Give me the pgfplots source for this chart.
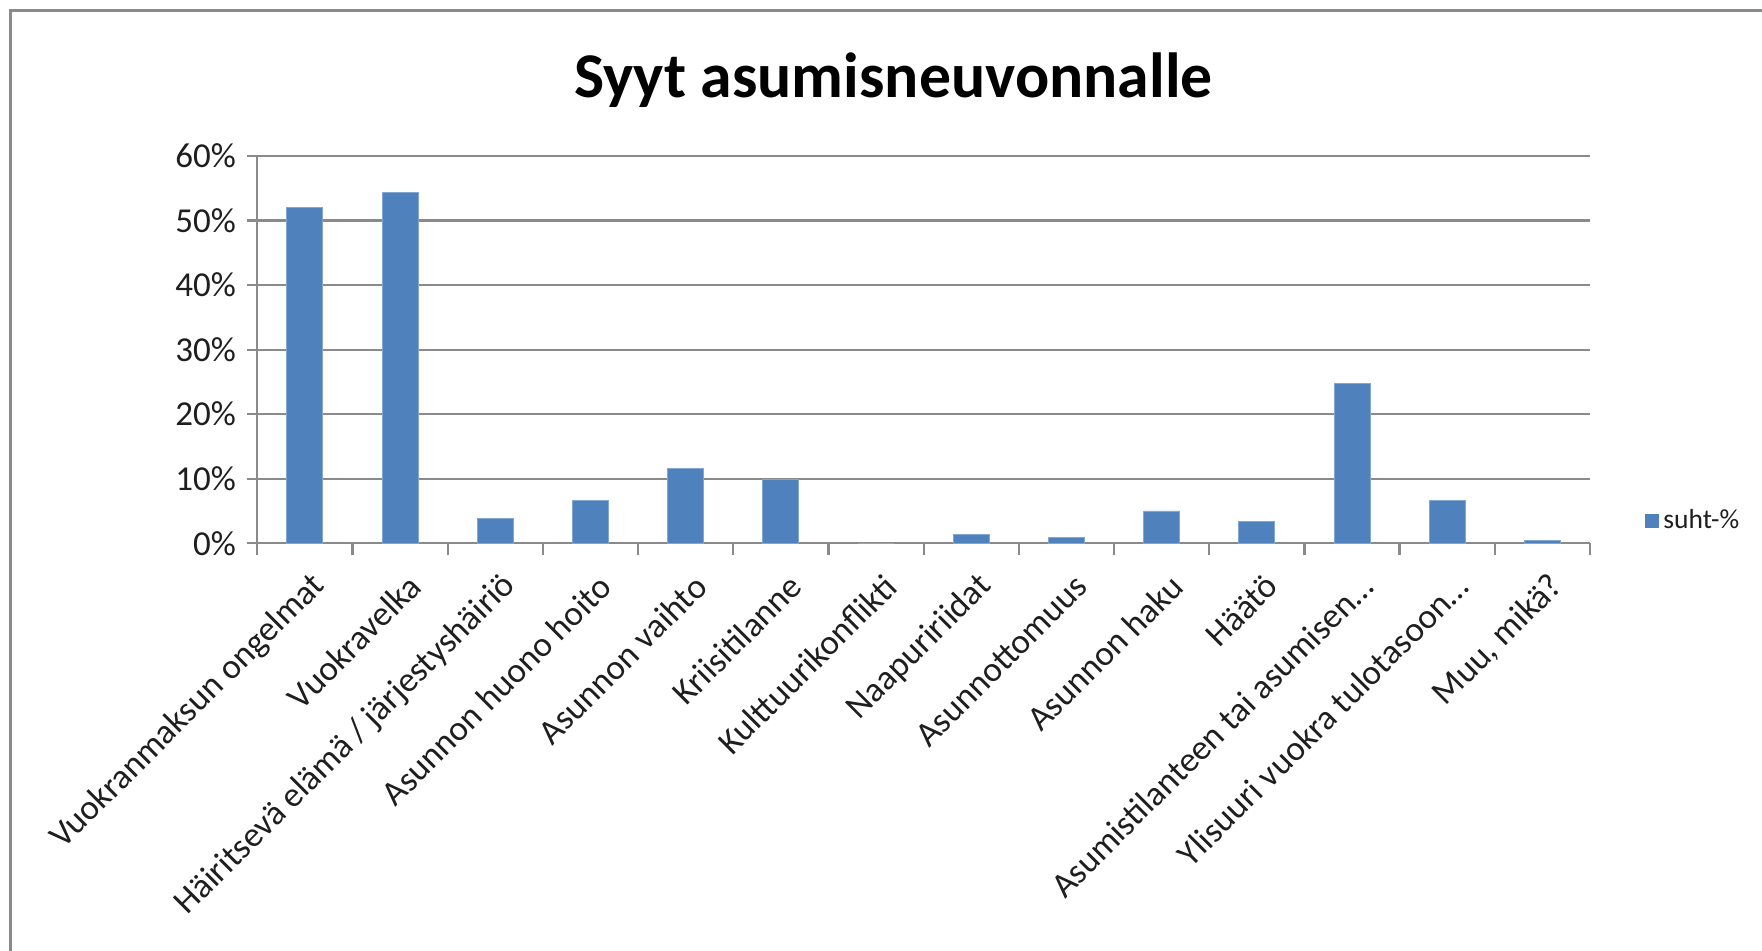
\documentclass[border=0pt]{standalone}
\usepackage{pgfplots}
\pgfplotsset{compat=1.18}
\usepackage{pgfplotstable}
\usepackage{fontspec}
\setmainfont{Carlito}
\definecolor{barblue}{HTML}{4F81BD}
\definecolor{axgray}{HTML}{8A8A8A}
\definecolor{txt}{HTML}{1E1E1E}
\pgfplotstableread{
x y
0 52.0
1 54.4
2 3.8
3 6.7
4 11.6
5 9.9
6 0
7 1.3
8 0.9
9 5.0
10 3.35
11 24.8
12 6.7
13 0.5
}\datatable
\begin{document}
\begin{tikzpicture}
\path[use as bounding box] (0,0) rectangle (704.8pt,380.4pt);
\draw[axgray, line width=1.3pt] (4.2pt,-2pt) -- (4.2pt,376.2pt) -- (706pt,376.2pt);
\node[font=\fontsize{25.5}{30}\selectfont\bfseries, text=black] at (357.3pt,348.3pt) {Syyt asumisneuvonnalle};
\begin{axis}[
  at={(102.9pt,163.1pt)}, anchor=south west,
  scale only axis, width=533.1pt, height=154.9pt,
  xmin=-0.5, xmax=13.5, ymin=0, ymax=60,
  ybar, bar width=14.4pt,
  axis x line*=bottom, axis y line*=left,
  axis line style={-, draw=axgray, line width=1pt},
  ytick={0,10,...,60},
  yticklabels={0\%,10\%,20\%,30\%,40\%,50\%,60\%},
  xtick={0,...,13},
  xticklabels={Vuokranmaksun ongelmat, Vuokravelka, Häiritsevä elämä / järjestyshäiriö, Asunnon huono hoito, Asunnon vaihto, Kriisitilanne, Kulttuurikonflikti, Naapuririidat, Asunnottomuus, Asunnon haku, Häätö, Asumistilanteen tai asumisen…, Ylisuuri vuokra tulotasoon…, {Muu, mikä?}},
  minor xtick={-0.5,0.5,...,13.5},
  tick align=outside,
  major tick length=4pt,
  minor tick length=4.8pt,
  major x tick style={draw=none},
  minor x tick style={draw=axgray, line width=0.9pt},
  major y tick style={draw=axgray, line width=0.9pt},
  ymajorgrids,
  major grid style={draw=axgray, line width=0.9pt},
  yticklabel style={font=\fontsize{14}{16}\selectfont, text=txt, xshift=-1pt},
  xticklabel style={font=\fontsize{14}{16}\selectfont, text=txt, rotate=45, anchor=east, xshift=0pt, yshift=-12pt},
  legend style={at={(1.035,0.057)}, anchor=west, draw=none, fill=none, font=\fontsize{11}{13}\selectfont, text=txt},
  legend image code/.code={\fill[barblue] (0pt,-2.6pt) rectangle (5.2pt,2.6pt);},
]
\addplot[fill=barblue, draw=barblue!70!white, line width=0.3pt] table[x=x,y=y] {\datatable};
\addlegendentry{suht-\%}
\end{axis}
\end{tikzpicture}
\end{document}
